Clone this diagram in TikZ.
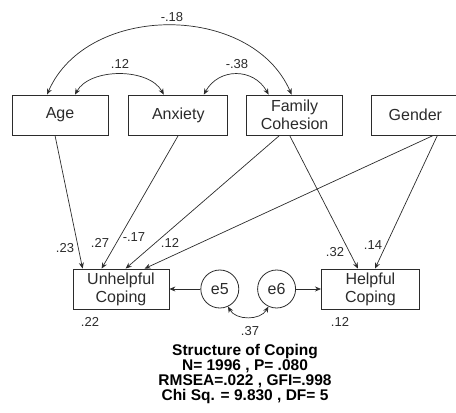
\documentclass[tikz,border=0pt]{standalone}
\usepackage{fontspec}
\setmainfont{Liberation Sans}
\usepackage{tikz}
\usetikzlibrary{arrows.meta, positioning, calc}
\definecolor{inkgray}{HTML}{2b2b2b}
\tikzstyle{varbox} = [rectangle, draw=inkgray, minimum width=96pt, minimum height=40pt, inner sep=0pt,
  align=center, font=\fontsize{16}{18}\selectfont, text=inkgray, line width=0.8pt]
\tikzstyle{errnode} = [circle, draw=inkgray, minimum size=38pt, inner sep=0pt,
  font=\fontsize{16}{18}\selectfont, text=inkgray, line width=0.8pt]
\tikzstyle{coef} = [font=\fontsize{13}{14}\selectfont, text=inkgray, inner sep=0pt]
\tikzstyle{fitbox} = [align=center, font=\bfseries\fontsize{15.5}{15}\selectfont, text=black, inner sep=0pt]
\tikzstyle{arrow} = [-{Stealth[length=6pt,width=5pt]}, line width=0.7pt, draw=inkgray]
\tikzstyle{twoway} = [{Stealth[length=6pt,width=5pt]}-{Stealth[length=6pt,width=5pt]}, line width=0.7pt, draw=inkgray]

\begin{document}
\begin{tikzpicture}[x=1pt, y=-1pt]
  \useasboundingbox (0,0) rectangle (456,413);

  % predictors
  \node (age)     [varbox] at (60,115) {Age};
  \node (anxiety) [varbox, right=20pt of age, minimum width=99pt] {Anxiety};
  \node (family)  [varbox, right=18pt of anxiety] {Family\\Cohesion};
  \node (gender)  [varbox, right=28pt of family, minimum width=88pt] {Gender};

  % outcomes and errors
  \node (unhelpful) [varbox] at (121,289) {Unhelpful\\Coping};
  \node (e5)        [errnode, right=31pt of unhelpful] {e5};
  \node (e6)        [errnode, right=18pt of e5] {e6};
  \node (helpful)   [varbox, right=25pt of e6, minimum width=98pt] {Helpful\\Coping};

  % paths
  \draw[arrow] ([xshift=-5pt]age.south)     -- ([xshift=10pt]unhelpful.north west);
  \draw[arrow] (anxiety.south)              -- ([xshift=29pt]unhelpful.north west);
  \draw[arrow] ([xshift=-15pt]family.south) -- ([xshift=53pt]unhelpful.north west);
  \draw[arrow] ([xshift=18pt]gender.south)  -- ([xshift=72pt]unhelpful.north west);
  \draw[arrow] ([xshift=-5pt]family.south)  -- ([xshift=37pt]helpful.north west);
  \draw[arrow] ([xshift=22pt]gender.south)  -- ([xshift=54pt]helpful.north west);
  \draw[arrow] (e5) -- (unhelpful);
  \draw[arrow] (e6) -- (helpful);

  % correlations
  \draw[twoway] ([xshift=-13pt]age.north) .. controls +(40,-92) and +(-40,-92) .. ([xshift=-3pt]family.north);
  \draw[twoway] ([xshift=15pt]age.north) .. controls +(15,-27) and +(-15,-27) .. ([xshift=-14.5pt]anxiety.north);
  \draw[twoway] ([xshift=25.5pt]anxiety.north) .. controls +(15,-27) and +(-15,-27) .. ([xshift=-26pt]family.north);
  \draw[twoway] (e5.-65) .. controls +(8,14) and +(-8,14) .. (e6.-115);

  % coefficients
  \node (r18)  [coef] at (172,17)  {-.18};
  \node (r12)  [coef] at (120,64)  {.12};
  \node (r38)  [coef] at (237,64)  {-.38};
  \node (b23)  [coef] at (65,248)  {.23};
  \node (b27)  [coef] at (100,243) {.27};
  \node (b17)  [coef] at (134,237) {-.17};
  \node (b12)  [coef] at (170,243) {.12};
  \node (b32)  [coef] at (335,252) {.32};
  \node (b14)  [coef] at (373,245) {.14};
  \node (rsq1) [coef] at (90,322)  {.22};
  \node (rsq2) [coef] at (340,322) {.12};
  \node (r37)  [coef] at (250,331) {.37};

  \node (fit) [fitbox] at (245,374) {Structure of Coping\\N= 1996 , P= .080\\RMSEA=.022 , GFI=.998\\Chi Sq. = 9.830 , DF= 5};
\end{tikzpicture}
\end{document}
